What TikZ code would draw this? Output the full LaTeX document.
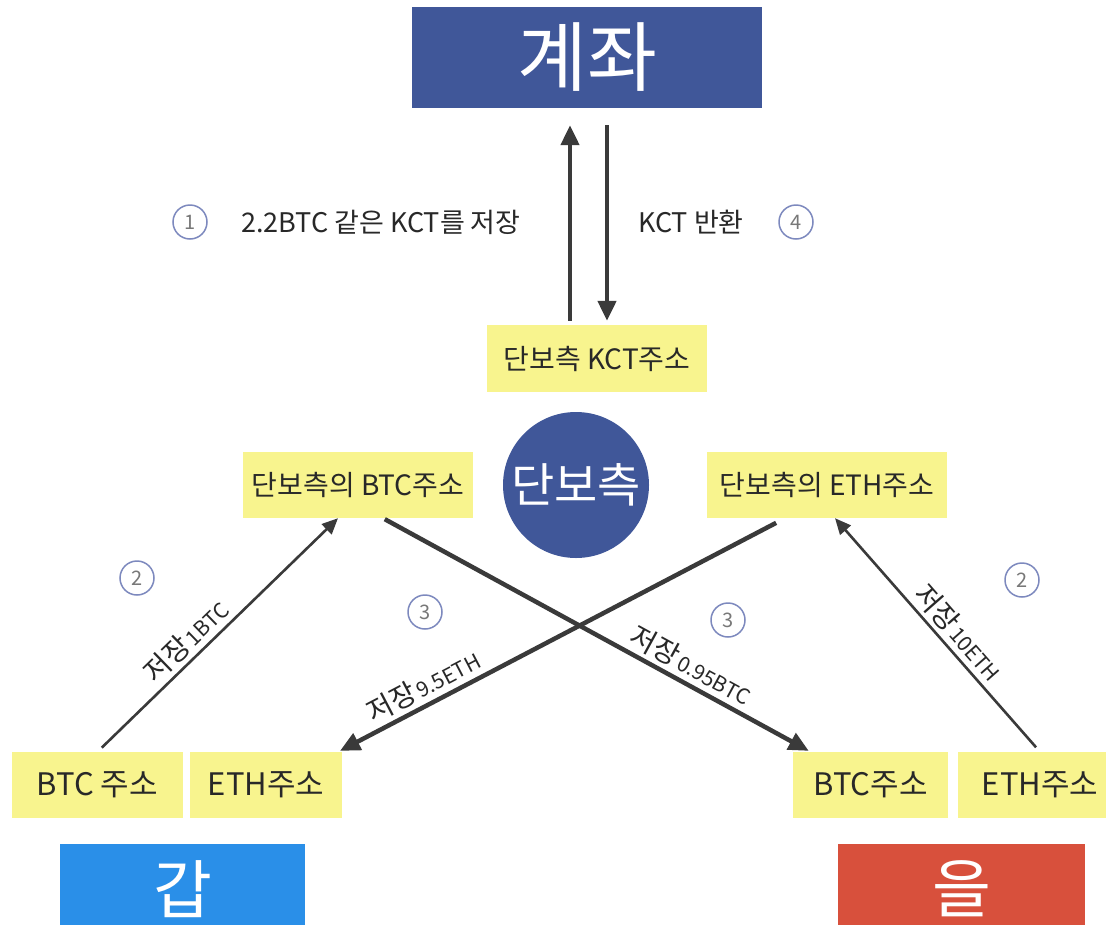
\documentclass[tikz,border=0pt]{standalone}
\usepackage{fontspec}
\setmainfont{Noto Sans CJK KR}
\usetikzlibrary{arrows.meta}
\definecolor{navy}{RGB}{64,87,153}
\definecolor{ybox}{RGB}{248,244,142}
\definecolor{gapblue}{RGB}{42,143,232}
\definecolor{eulred}{RGB}{216,80,60}
\definecolor{arrowgray}{RGB}{58,58,58}
\definecolor{ringblue}{RGB}{125,137,190}
\definecolor{numgray}{RGB}{120,120,120}
\definecolor{txt}{RGB}{40,40,40}
\tikzset{
  ybx/.style={fill=ybox, draw=none, inner sep=0pt, text=txt, font=\fontsize{28}{32}\selectfont},
  ybxb/.style={ybx, minimum height=66pt, font=\fontsize{31}{34}\selectfont},
  bigbox/.style={draw=none, inner sep=0pt, text=white},
  numc/.style={circle, draw=ringblue, line width=1.5pt, minimum size=34pt, inner sep=0pt, text=numgray, font=\fontsize{20}{22}\selectfont},
  thickarr/.style={draw=arrowgray, line width=4.5pt, -{Triangle[length=20pt,width=18pt]}},
  thinarr/.style={draw=arrowgray, line width=2.6pt, -{Triangle[length=16pt,width=14pt]}},
  lbl/.style={text=txt, font=\fontsize{27}{30}\selectfont},
  slbl/.style={sloped, above, text=txt, inner sep=4pt},
}
\newcommand{\jj}{\fontsize{28}{30}\selectfont}
\newcommand{\nn}{\fontsize{21}{23}\selectfont}
\begin{document}
\begin{tikzpicture}[x=1pt,y=-1pt]
\useasboundingbox (0,0) rectangle (1106,924);
\fill[white] (0,0) rectangle (1106,924);

% main boxes
\node[bigbox, fill=navy, minimum width=350pt, minimum height=101pt, font=\fontsize{76}{80}\selectfont] (account) at (587,57.5) {계좌};
\node[ybx, minimum width=220pt, minimum height=67pt] (kct) at (597,358.5) {단보측 KCT주소};
\node[circle, fill=navy, minimum size=146pt, inner sep=0pt, text=white, font=\fontsize{47}{50}\selectfont] (hub) at (576,485) {단보측};
\node[ybx, minimum width=230pt, minimum height=66pt] (btcC) at (358,485) {단보측의 BTC주소};
\node[ybx, minimum width=240pt, minimum height=66pt] (ethC) at (827,485) {단보측의 ETH주소};

\node[ybxb, minimum width=171pt] (aBTC) at (97.5,785) {BTC 주소};
\node[ybxb, minimum width=152pt] (aETH) at (266,785) {ETH주소};
\node[ybxb, minimum width=155pt] (bBTC) at (870.5,785) {BTC주소};
\node[ybxb, minimum width=164pt] (bETH) at (1040,785) {ETH주소};

\node[bigbox, fill=gapblue, minimum width=245pt, minimum height=90pt, font=\fontsize{64}{68}\selectfont] (gap) at (182.5,889) {갑};
\node[bigbox, fill=eulred, minimum width=247pt, minimum height=90pt, font=\fontsize{64}{68}\selectfont] (eul) at (961.5,889) {을};

% vertical arrows
\draw[thickarr, shorten <=4pt, shorten >=17pt] ([xshift=-27pt]kct.north) -- ([xshift=-17pt]account.south);
\draw[thickarr, shorten <=17pt, shorten >=4pt] ([xshift=20pt]account.south) -- ([xshift=10pt]kct.north);

% top labels
\node[numc] (n1) at (190,222) {1};
\node[lbl] (t1) at (381,222) {2.2BTC 같은 KCT를 저장};
\node[lbl] (t4) at (691,222) {KCT 반환};
\node[numc] (n4) at (796,222) {4};

% diagonal arrows
\draw[thinarr, shorten <=6pt] (aBTC.north) -- ([xshift=-20pt]btcC.south)
  node[slbl, pos=0.42] {{\jj 저장} {\nn 1BTC}};
\draw[thickarr, shorten <=2pt, shorten >=2pt] ([xshift=25pt]btcC.south) -- ([xshift=-60pt]bBTC.north)
  node[slbl, pos=0.70] {{\jj 저장} {\nn 0.95BTC}};
\draw[thickarr, shorten <=10pt, shorten >=2pt] ([xshift=-42pt]ethC.south) -- ([xshift=-4pt]aETH.north east)
  node[slbl, pos=0.79] {{\jj 저장} {\nn 9.5ETH}};
\draw[thinarr, shorten <=6pt] (bETH.north) -- ([xshift=8pt]ethC.south)
  node[slbl, pos=0.46] {{\jj 저장} {\nn 10ETH}};

\node[numc] (n2a) at (137,578) {2};
\node[numc] (n3a) at (425,612) {3};
\node[numc] (n3b) at (728,620) {3};
\node[numc] (n2b) at (1022,580) {2};
\end{tikzpicture}
\end{document}
